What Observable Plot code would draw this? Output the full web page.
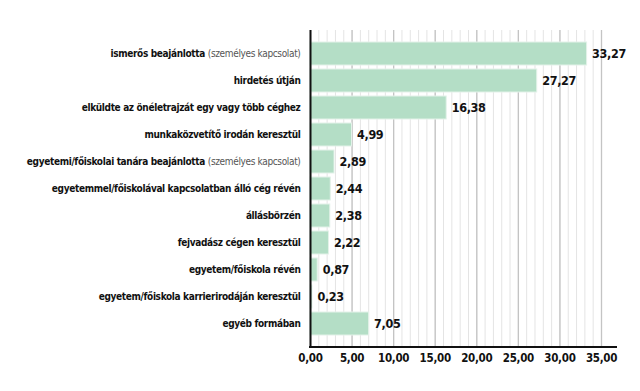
<!DOCTYPE html>
<html><head><meta charset="utf-8">
<script src="https://cdn.jsdelivr.net/npm/d3@7"></script>
<script src="https://cdn.jsdelivr.net/npm/@observablehq/plot@0.6"></script>
<style>
body{margin:0;background:#fff;}
svg{font-family:"DejaVu Sans Condensed","DejaVu Sans",sans-serif;font-stretch:condensed;}
</style></head><body>
<div id="chart"></div>
<script>
const categories = [
  "ismerős beajánlotta",
  "hirdetés útján",
  "elküldte az önéletrajzát egy vagy több céghez",
  "munkaközvetítő irodán keresztül",
  "egyetemi/főiskolai tanára beajánlotta",
  "egyetemmel/főiskolával kapcsolatban álló cég révén",
  "állásbörzén",
  "fejvadász cégen keresztül",
  "egyetem/főiskola révén",
  "egyetem/főiskola karrierirodáján keresztül",
  "egyéb formában"
];
const notes = ["(személyes kapcsolat)", "", "", "", "(személyes kapcsolat)", "", "", "", "", "", ""];
const values = [33.27, 27.27, 16.38, 4.99, 2.89, 2.44, 2.38, 2.22, 0.87, 0.23, 7.05];
const xTicks = [0, 5, 10, 15, 20, 25, 30, 35];
const minorTicks = d3.range(0, 36, 1);

const data = categories.map((c, i) => ({cat: c, note: notes[i], value: values[i]}));
const fmt = v => v.toFixed(2).replace(".", ",");

const chart = Plot.plot({
  width: 640,
  height: 391,
  marginLeft: 310,
  marginRight: 39,
  marginTop: 30,
  marginBottom: 44,
  x: {domain: [0, 35], label: null},
  y: {domain: categories, paddingInner: 0.16, paddingOuter: 0.39, label: null},
  marks: [
    Plot.ruleX(minorTicks, {stroke: "#e4e4e4", strokeWidth: 1}),
    Plot.ruleX(xTicks, {stroke: "#c4c4c4", strokeWidth: 1.3}),
    Plot.barX(data, {x: "value", y: "cat", fill: "#b4dec6", stroke: "#e3f2e9", strokeWidth: 1}),
    Plot.text(data, {x: "value", y: "cat", text: d => fmt(d.value), textAnchor: "start", dx: 5,
      fontWeight: "bold", fontSize: 12.5, fill: "#111"}),
    Plot.ruleX([0], {stroke: "#111", strokeWidth: 2}),
    Plot.axisX({ticks: xTicks, tickSize: 0, tickPadding: 6, tickFormat: fmt, fontSize: 11.5, fontWeight: "bold", color: "#111", label: null}),
    Plot.axisY({tickSize: 0, tickPadding: 10, fontSize: 10, fontWeight: "bold", color: "#111", label: null})
  ]
});
document.getElementById("chart").appendChild(chart);

// bottom axis line and mixed-weight labels
const sx = chart.scale("x");
const svg = d3.select(chart);
const yBottom = 391 - 44;
svg.append("line")
  .attr("x1", sx.apply(0) - 1).attr("x2", sx.apply(35) + 16)
  .attr("y1", yBottom).attr("y2", yBottom)
  .attr("stroke", "#111").attr("stroke-width", 2);

svg.selectAll("g[aria-label='y-axis tick label'] text")
  .attr("letter-spacing", "-0.35")
  .each(function() {
    const t = d3.select(this);
    const label = t.text();
    const i = categories.indexOf(label);
    if (i >= 0 && notes[i]) {
      t.text(null);
      t.append("tspan").text(label + " ");
      t.append("tspan").attr("font-weight", "normal").attr("fill", "#555").text(notes[i]);
    }
  });
svg.selectAll("g[aria-label='x-axis tick label'] text").attr("letter-spacing", "-0.3");
svg.selectAll("g[aria-label='text'] text").attr("letter-spacing", "-0.35");
</script>
</body></html>
